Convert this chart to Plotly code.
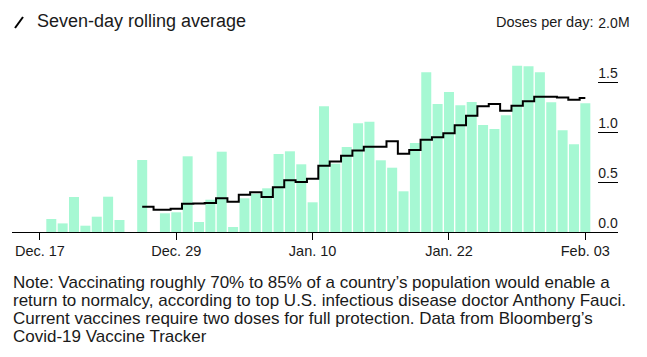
import plotly.graph_objects as go

# ---------------- data ----------------
bar_dates = [
    "2020-12-18", "2020-12-19", "2020-12-20", "2020-12-21", "2020-12-22", "2020-12-23",
    "2020-12-24", "2020-12-26", "2020-12-28", "2020-12-29", "2020-12-30", "2020-12-31",
    "2021-01-01", "2021-01-02", "2021-01-03", "2021-01-04", "2021-01-05", "2021-01-06",
    "2021-01-07", "2021-01-08", "2021-01-09", "2021-01-10", "2021-01-11", "2021-01-12",
    "2021-01-13", "2021-01-14", "2021-01-15", "2021-01-16", "2021-01-17", "2021-01-18",
    "2021-01-19", "2021-01-20", "2021-01-21", "2021-01-22", "2021-01-23", "2021-01-24",
    "2021-01-25", "2021-01-26", "2021-01-27", "2021-01-28", "2021-01-29", "2021-01-30",
    "2021-01-31", "2021-02-01", "2021-02-02", "2021-02-03",
]
daily_doses_m = [
    0.13, 0.086, 0.35, 0.063, 0.153, 0.353,
    0.12, 0.72, 0.187, 0.197, 0.757, 0.10,
    0.323, 0.803, 0.05, 0.337, 0.383, 0.437,
    0.78, 0.807, 0.677, 0.297, 1.257, 0.683,
    0.85, 1.087, 1.103, 0.717, 0.643, 0.407,
    0.89, 1.597, 1.28, 1.40, 1.267, 1.30,
    1.07, 1.03, 1.167, 1.663, 1.657, 1.597,
    1.297, 1.017, 0.877, 1.287,
]

avg_dates = [
    "2020-12-26", "2020-12-28", "2020-12-29", "2020-12-30", "2020-12-31",
    "2021-01-01", "2021-01-02", "2021-01-03", "2021-01-04", "2021-01-05", "2021-01-06",
    "2021-01-07", "2021-01-08", "2021-01-09", "2021-01-10", "2021-01-11", "2021-01-12",
    "2021-01-13", "2021-01-14", "2021-01-15", "2021-01-16", "2021-01-17", "2021-01-18",
    "2021-01-19", "2021-01-20", "2021-01-21", "2021-01-22", "2021-01-23", "2021-01-24",
    "2021-01-25", "2021-01-26", "2021-01-27", "2021-01-28", "2021-01-29", "2021-01-30",
    "2021-01-31", "2021-02-01", "2021-02-02", "2021-02-03",
]
rolling_avg_m = [
    0.253, 0.223, 0.233, 0.283, 0.285,
    0.29, 0.337, 0.303, 0.372, 0.397, 0.35,
    0.447, 0.517, 0.50, 0.533, 0.663, 0.705,
    0.762, 0.815, 0.853, 0.853, 0.908, 0.783,
    0.82, 0.923, 0.947, 0.987, 1.067, 1.163,
    1.257, 1.28, 1.213, 1.263, 1.307, 1.353,
    1.353, 1.345, 1.323, 1.34,
]

x_tick_dates = ["2020-12-17", "2020-12-29", "2021-01-10", "2021-01-22", "2021-02-03"]
y_tick_vals = [0.0, 0.5, 1.0, 1.5, 2.0]
y_tick_text = ["0.0", "0.5", "1.0", "1.5", "2.0"]

title_text = "Seven-day rolling average"
unit_prefix = "Doses per day:"
unit_suffix = "M"
note_lines = [
    "Note: Vaccinating roughly 70% to 85% of a country\u2019s population would enable a",
    "return to normalcy, according to top U.S. infectious disease doctor Anthony Fauci.",
    "Current vaccines require two doses for full protection. Data from Bloomberg\u2019s",
    "Covid-19 Vaccine Tracker",
]

# ---------------- layout helpers ----------------
W, H = 647, 357
L, R, T, B = 12, 29, 32, 125
PW, PH = W - L - R, H - T - B
FONT = "Liberation Sans, Arial, Helvetica, sans-serif"
TXT = "#1a1a1a"


def px_x(px):
    return (px - L) / PW


def px_y(py):
    return (T + PH - py) / PH


fig = go.Figure()
fig.add_trace(go.Bar(
    x=bar_dates, y=daily_doses_m,
    marker=dict(color="#a6f8d3", line=dict(width=0)),
    hoverinfo="skip", showlegend=False,
))
fig.add_trace(go.Scatter(
    x=avg_dates, y=rolling_avg_m, mode="lines",
    line=dict(color="#000000", width=2, shape="hvh"),
    hoverinfo="skip", showlegend=False,
))

annotations = [
    dict(text=title_text, x=px_x(36), y=px_y(21), xref="paper", yref="paper",
         xanchor="left", yanchor="middle", showarrow=False, borderpad=0,
         font=dict(family=FONT, size=18, color=TXT)),
    dict(text=unit_prefix, x=px_x(595), y=px_y(22.5), xref="paper", yref="paper",
         xanchor="right", yanchor="middle", showarrow=False, borderpad=0,
         font=dict(family=FONT, size=14.5, color=TXT)),
    dict(text=unit_suffix, x=px_x(617), y=px_y(22.5), xref="paper", yref="paper",
         xanchor="left", yanchor="middle", showarrow=False, borderpad=0,
         font=dict(family=FONT, size=14, color=TXT)),
]
for i, line in enumerate(note_lines):
    annotations.append(dict(
        text=line, x=px_x(12), y=px_y(282.5 + 18 * i), xref="paper", yref="paper",
        xanchor="left", yanchor="middle", showarrow=False, borderpad=0,
        height=17, valign="middle",
        font=dict(family=FONT, size=17, color=TXT)))

shapes = [
    dict(type="line", xref="paper", yref="paper",
         x0=px_x(15), y0=px_y(28), x1=px_x(23), y1=px_y(17),
         line=dict(color="#000000", width=2)),
]

fig.update_layout(
    width=W, height=H,
    margin=dict(l=L, r=R, t=T, b=B, pad=0, autoexpand=False),
    paper_bgcolor="white", plot_bgcolor="white",
    bargap=0.12,
    showlegend=False,
    annotations=annotations,
    shapes=shapes,
    xaxis=dict(
        type="date", automargin=False,
        range=["2020-12-14 13:00", "2021-02-05 21:00"],
        tickvals=x_tick_dates, tickformat="%b. %d",
        ticks="outside", ticklen=7, tickwidth=1, tickcolor="#000000",
        ticklabelstandoff=-1,
        showline=True, linecolor="#000000", linewidth=1,
        showgrid=False, zeroline=False,
        tickfont=dict(family=FONT, size=14.5, color=TXT),
    ),
    yaxis=dict(
        side="right", range=[0, 2], automargin=False,
        tickvals=y_tick_vals, ticktext=y_tick_text,
        ticks="inside", ticklen=20, tickwidth=1, tickcolor="#000000",
        ticklabelposition="inside", ticklabelstandoff=-20, ticklabelshift=-9,
        ticklabeloverflow="allow",
        showgrid=False, zeroline=False, showline=False,
        tickfont=dict(family=FONT, size=14, color=TXT),
    ),
)

fig.write_html(
    "out.html",
    config={"displayModeBar": False},
    post_script="document.body.style.margin='0';document.body.style.padding='0';",
)
